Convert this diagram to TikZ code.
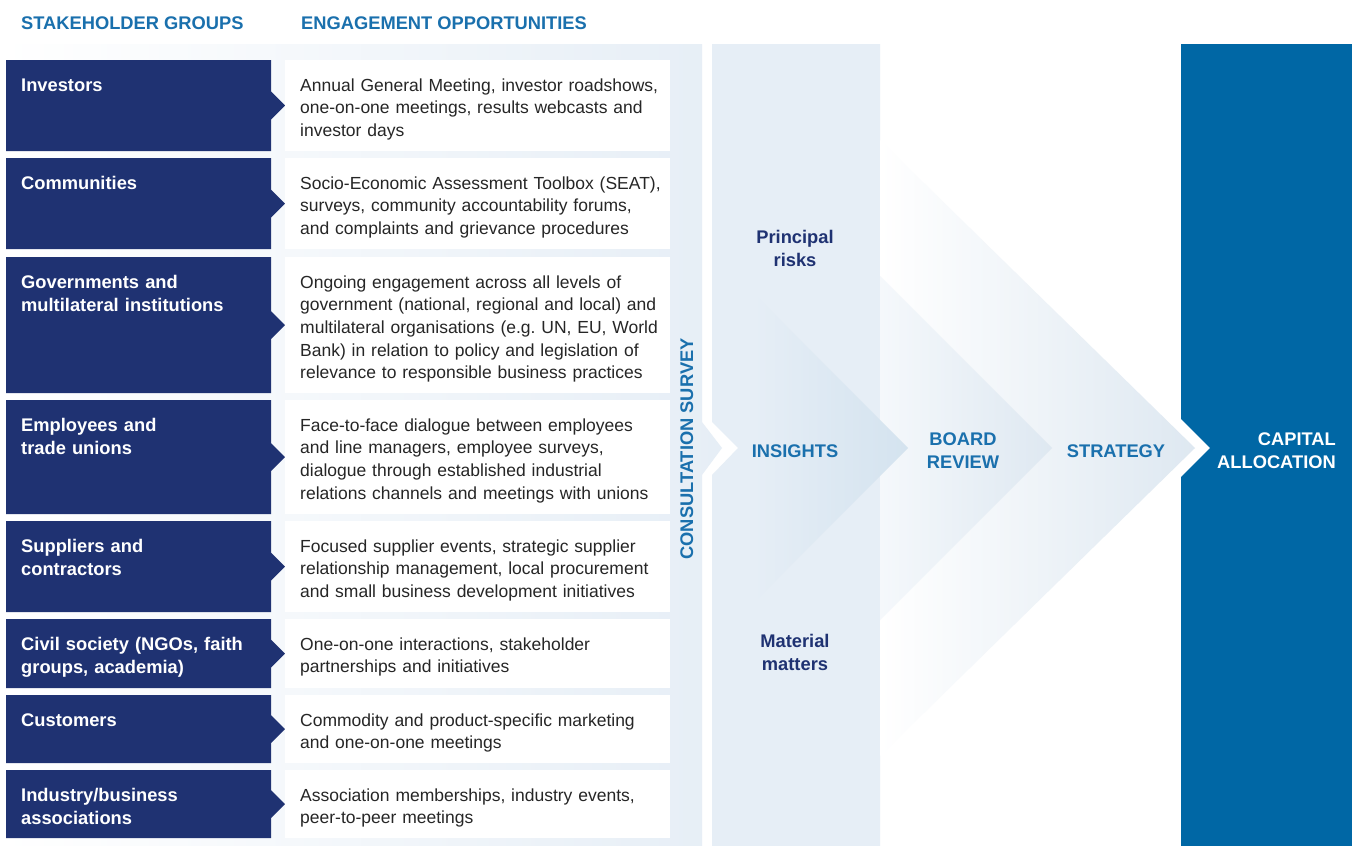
\documentclass[tikz,border=0pt]{standalone}
\usepackage{fontspec}
\setmainfont{Liberation Sans}
\frenchspacing
\definecolor{navy}{HTML}{1F3272}
\definecolor{headblue}{HTML}{1A70AD}
\definecolor{capblue}{HTML}{0067A5}
\definecolor{coltint}{HTML}{E6EEF6}
\definecolor{bodytext}{HTML}{262626}
\definecolor{tipblue}{HTML}{D4E3EF}
\definecolor{chevtip}{HTML}{DEE8F1}
\tikzset{
  sgfill/.style={fill=navy},
  eofill/.style={fill=white},
  sgtext/.style={anchor=base west, inner sep=0pt, text=white, font=\bfseries\fontsize{18.3}{23}\selectfont, text width=250pt, align=left},
  eotext/.style={anchor=base west, inner sep=0pt, text=bodytext, font=\frenchspacing\fontsize{17.5}{22.7}\selectfont, text width=380pt, align=left},
  headtext/.style={inner sep=0pt, text=headblue, font=\bfseries\fontsize{18.3}{23}\selectfont},
  navytext/.style={inner sep=0pt, text=navy, font=\bfseries\fontsize{18.3}{23}\selectfont, text width=150pt, align=center, anchor=base},
}
\newcommand\sgrow[5]{%
  \pgfmathsetmacro\sgmid{(#2+#3)/2}%
  \pgfmathsetmacro\sgbase{#2+31}%
  \fill[sgfill] (6,#2) -- (271,#2) -- (271,\sgmid-14) -- (285,\sgmid) -- (271,\sgmid+14) -- (271,#3) -- (6,#3) -- cycle;
  \fill[eofill] (285,#2) rectangle (670,#3);
  \node[sgtext] (sg#1) at (21,\sgbase) {#4};
  \node[eotext] (eo#1) at (300,\sgbase) {#5};
}
\begin{document}
\begin{tikzpicture}[x=1pt,y=-1pt]
\useasboundingbox (0,0) rectangle (1352,846);
\fill[white] (0,0) rectangle (1352,846);
% left background with consultation column
\shade[left color=white, right color=coltint] (0,44) -- (702,44) -- (702,422) -- (722,448) -- (702,475) -- (702,846) -- (0,846) -- cycle;
% insights column
\fill[coltint] (712,44) -- (880,44) -- (880,846) -- (712,846) -- (712,475) -- (738,448) -- (712,422) -- cycle;
% strategy chevron
\shade[left color=white, right color=chevtip] (880,140) -- (1195,448) -- (880,756) -- cycle;
% board review chevron
\shade[left color=white!60!coltint, right color=chevtip] (880,276) -- (1052,448) -- (880,620) -- cycle;
% insights chevron
\shade[left color=coltint, right color=tipblue] (753,293) -- (908,448) -- (753,603) -- cycle;
% capital allocation column
\fill[capblue] (1181,44) -- (1352,44) -- (1352,846) -- (1181,846) -- (1181,477) -- (1210,448) -- (1181,419) -- cycle;

% headings
\node[headtext, anchor=base west] (hsg) at (21,29) {STAKEHOLDER GROUPS};
\node[headtext, anchor=base west] (heo) at (301,29) {ENGAGEMENT OPPORTUNITIES};

% rows
\sgrow{1}{60}{151}{Investors}{Annual General Meeting, investor roadshows,\\ one-on-one meetings, results webcasts and\\ investor days}
\sgrow{2}{158}{249}{Communities}{Socio-Economic Assessment Toolbox (SEAT),\\ surveys, community accountability forums,\\ and complaints and grievance procedures}
\sgrow{3}{257}{393}{Governments and\\ multilateral institutions}{Ongoing engagement across all levels of\\ government (national, regional and local) and\\ multilateral organisations (e.g. UN, EU, World\\ Bank) in relation to policy and legislation of\\ relevance to responsible business practices}
\sgrow{4}{400}{514}{Employees and\\ trade unions}{Face-to-face dialogue between employees\\ and line managers, employee surveys,\\ dialogue through established industrial\\ relations channels and meetings with unions}
\sgrow{5}{521}{612}{Suppliers and\\ contractors}{Focused supplier events, strategic supplier\\ relationship management, local procurement\\ and small business development initiatives}
\sgrow{6}{619}{688}{Civil society (NGOs, faith\\ groups, academia)}{One-on-one interactions, stakeholder\\ partnerships and initiatives}
\sgrow{7}{695}{763}{Customers}{Commodity and product-specific marketing\\ and one-on-one meetings}
\sgrow{8}{770}{838}{Industry/business\\ associations}{Association memberships, industry events,\\ peer-to-peer meetings}

% consultation survey
\node[headtext, rotate=90, anchor=base] (cons) at (693,449) {CONSULTATION SURVEY};

% insights column texts
\node[navytext] (prisk) at (795,243) {Principal\\ risks};
\node[navytext] (mmat) at (795,647) {Material\\ matters};
\node[headtext, anchor=base] (ins) at (795,457) {INSIGHTS};
\node[headtext, anchor=base, text width=150pt, align=center] (board) at (963,445) {BOARD\\ REVIEW};
\node[headtext, anchor=base] (strat) at (1116,457) {STRATEGY};
\node[headtext, anchor=base east, text=white, text width=150pt, align=right] (cap) at (1336,445) {CAPITAL\\ ALLOCATION};
\end{tikzpicture}
\end{document}
